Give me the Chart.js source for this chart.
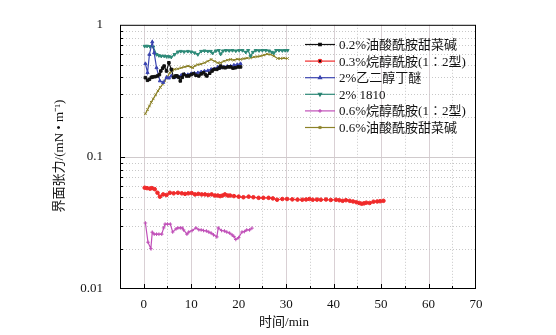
<!DOCTYPE html>
<html><head><meta charset="utf-8">
<script src="https://cdn.jsdelivr.net/npm/chart.js@4"></script>
<style>html,body{margin:0;padding:0;background:#fff}#w{width:556px;height:335px}</style>
</head><body><div id="w"><canvas id="c" width="556" height="335"></canvas></div>
<script>
const seriesNames = ["0.2%油酸酰胺甜菜碱","0.3%烷醇酰胺(1∶2型)","2%乙二醇丁醚","2% 1810","0.6%烷醇酰胺(1∶2型)","0.6%油酸酰胺甜菜碱"];
const xTickValues = [0,10,20,30,40,50,60,70];
const yTickValues = [0.01,0.1,1];
const yTickLabels = ["0.01","0.1","1"];
const xTitle = "时间/min";
const yTitle = "界面张力/(mN • m⁻¹)";

const tBlack = [0.35,0.8,1.2,1.6,1.9,2.4,2.9,3.3,3.6,4.0,4.3,4.8,5.3,5.8,6.3,6.7,7.0,7.4,7.7,8.1,8.4,9.0,9.5,10.0,10.5,11.0,11.6,12.1,12.6,13.0,13.3,13.9,14.4,14.8,15.4,15.9,16.2,16.7,17.2,17.8,18.3,18.8,19.3,19.9,20.4];
const vBlack = [0.398,0.38,0.387,0.40,0.403,0.405,0.41,0.42,0.447,0.47,0.487,0.447,0.516,0.46,0.40,0.41,0.41,0.40,0.376,0.40,0.422,0.41,0.41,0.42,0.427,0.415,0.41,0.425,0.434,0.42,0.41,0.43,0.447,0.46,0.46,0.47,0.487,0.475,0.473,0.48,0.48,0.47,0.473,0.48,0.48];

const tRed = [0.2,0.7,1.3,1.7,2.3,2.9,3.4,4.1,4.8,5.5,6.3,7.2,8.0,8.7,9.4,10.1,10.8,11.5,12.2,12.9,13.6,14.3,15.0,15.6,16.1,16.6,17.1,17.7,18.2,19.0,20.0,21.0,22.1,23.1,24.2,25.2,26.3,27.2,28.1,29.2,30.2,31.3,32.4,33.4,34.2,34.9,35.6,36.5,37.3,38.4,39.4,40.5,41.2,41.9,42.6,43.4,44.1,44.8,45.4,45.9,46.4,46.9,47.6,48.4,49.2,49.8,50.5];
const vRed = [0.0584,0.058,0.0575,0.058,0.057,0.0535,0.050,0.052,0.0515,0.0535,0.053,0.0535,0.053,0.0525,0.053,0.0532,0.052,0.0525,0.052,0.052,0.0515,0.052,0.051,0.051,0.0505,0.051,0.052,0.051,0.051,0.0505,0.050,0.0495,0.050,0.0495,0.049,0.049,0.049,0.0485,0.0474,0.048,0.048,0.0477,0.0475,0.0474,0.0476,0.048,0.0474,0.0475,0.0474,0.0476,0.0472,0.0474,0.047,0.0465,0.047,0.0465,0.046,0.0454,0.0448,0.0442,0.0445,0.045,0.0448,0.0458,0.046,0.0462,0.0465];

const tBlue = [0.35,0.8,1.2,1.8,2.2,2.7,3.4,4.1,4.8,5.3,5.8,6.5,7.2,7.9,8.6,9.3,10.0,10.7,11.4,12.1,12.8,13.5,14.2,14.9,15.6,16.2,16.9,17.6,18.3,19.0,19.7,20.4];
const vBlue = [0.508,0.434,0.596,0.742,0.614,0.473,0.376,0.366,0.40,0.395,0.41,0.40,0.405,0.415,0.422,0.42,0.427,0.43,0.434,0.44,0.447,0.45,0.46,0.465,0.479,0.473,0.48,0.485,0.487,0.495,0.50,0.508];

const tTeal = [0.2,0.7,1.3,2.0,2.7,3.2,3.7,4.3,4.8,5.3,5.8,6.5,7.2,7.8,8.5,9.3,10.0,10.7,11.4,12.1,12.8,13.5,14.1,14.5,15.2,15.8,16.2,16.7,17.3,18.0,18.7,19.4,20.1,20.8,21.5,22.0,22.5,23.0,23.6,24.3,25.0,25.7,26.4,27.0,27.4,27.9,28.5,29.2,29.8,30.3];
const vTeal = [0.688,0.69,0.685,0.68,0.596,0.585,0.579,0.58,0.575,0.575,0.569,0.596,0.624,0.63,0.625,0.63,0.624,0.614,0.596,0.63,0.635,0.63,0.63,0.61,0.635,0.64,0.60,0.635,0.64,0.638,0.64,0.635,0.64,0.64,0.62,0.64,0.58,0.62,0.64,0.638,0.64,0.64,0.635,0.62,0.61,0.64,0.64,0.638,0.64,0.64];

const tMag = [0.35,0.9,1.5,1.8,2.2,2.7,3.2,3.8,4.2,4.5,5.0,5.6,6.1,6.8,7.2,7.7,8.1,8.4,9.1,9.5,10.2,11.0,11.6,12.1,12.6,13.2,13.7,14.2,14.7,15.4,15.7,16.4,17.0,17.5,18.1,18.6,19.0,19.4,20.0,20.7,21.2,21.7,22.3,22.8];
const vMag = [0.0316,0.0226,0.0202,0.0269,0.026,0.026,0.026,0.026,0.029,0.031,0.031,0.031,0.027,0.0285,0.029,0.029,0.029,0.028,0.026,0.027,0.0277,0.029,0.0281,0.028,0.0277,0.0275,0.027,0.0265,0.0257,0.0248,0.029,0.0277,0.0275,0.027,0.0265,0.0257,0.025,0.0237,0.0245,0.027,0.0272,0.028,0.028,0.0289];

const tOlive = [0.35,0.8,1.2,1.6,2.0,2.5,3.0,3.5,4.0,4.4,5.0,5.5,6.0,6.5,7.2,7.9,8.6,9.3,10.0,10.3,10.8,11.4,12.1,12.8,13.5,14.2,14.9,15.6,16.2,16.9,17.6,18.3,19.0,19.7,20.4,21.1,21.8,22.5,23.2,23.9,24.6,25.3,26.0,26.8,27.4,28.2,28.8,29.5,30.3];
const vOlive = [0.212,0.228,0.243,0.259,0.275,0.295,0.316,0.336,0.355,0.376,0.405,0.434,0.45,0.46,0.465,0.473,0.48,0.487,0.48,0.473,0.49,0.50,0.505,0.516,0.53,0.547,0.53,0.516,0.516,0.53,0.54,0.547,0.54,0.55,0.547,0.555,0.56,0.563,0.57,0.575,0.58,0.59,0.60,0.596,0.58,0.556,0.556,0.56,0.556];

const colors = ["#111111","#f02a2a","#3a44b0","#2e8a78","#c050b8","#8c8228"];
const styles = ["rect","circle","triangle","triangle","cross","crossRot"];
const rotations = [0,0,0,180,0,0];

const pairs = [[tBlack,vBlack],[tRed,vRed],[tBlue,vBlue],[tTeal,vTeal],[tMag,vMag],[tOlive,vOlive]];
const datasets = pairs.map((p,i)=>({
  label: seriesNames[i],
  data: p[0].map((t,j)=>({x:t,y:p[1][j]})),
  borderColor: colors[i], backgroundColor: colors[i],
  borderWidth: 1.2, pointRadius: 1.8, pointStyle: styles[i], pointRotation: rotations[i],
  pointBorderWidth: 1, tension: 0
}));

const serif = '"Liberation Serif","Noto Sans CJK SC",serif';
const cjk = '"Liberation Serif","Noto Sans CJK SC",sans-serif';

const deco = {
  id:'deco',
  beforeDatasetsDraw(chart){
    const {ctx, chartArea:a, scales:{x,y}} = chart;
    ctx.save();
    // vertical grid
    for(let v=-5; v<=70; v+=5){
      const px = Math.round(x.getPixelForValue(v))+0.5;
      if(px<=a.left+1 || px>=a.right-1) continue;
      ctx.beginPath();
      if(v%10===0){ctx.setLineDash([]);ctx.strokeStyle='#d9d0d4';}
      else {ctx.setLineDash([1,2]);ctx.strokeStyle='#c8c8c8';}
      ctx.lineWidth=1; ctx.moveTo(px,a.top); ctx.lineTo(px,a.bottom); ctx.stroke();
    }
    // horizontal grid
    for(let d=-2; d<0; d++){
      for(let k=1;k<=9;k++){
        const val = k*Math.pow(10,d);
        const py = Math.round(y.getPixelForValue(val))+0.5;
        if(py>=a.bottom-1 || py<=a.top+1) continue;
        ctx.beginPath();
        if(k===1){ctx.setLineDash([]);ctx.strokeStyle='#d0cacc';}
        else {ctx.setLineDash([1,2]);ctx.strokeStyle='#c8c8c8';}
        ctx.moveTo(a.left,py); ctx.lineTo(a.right,py); ctx.stroke();
      }
    }
    ctx.restore();
  },
  afterDatasetsDraw(chart){
    const {ctx, chartArea:a, scales:{x,y}} = chart;
    ctx.save();
    ctx.setLineDash([]);
    ctx.strokeStyle='#000'; ctx.lineWidth=1;
    ctx.strokeRect(a.left+0.5,a.top+0.5,a.right-a.left-1,a.bottom-a.top-1);
    // bottom ticks inward
    for(let v=-5; v<=70; v+=5){
      const px = Math.round(x.getPixelForValue(v))+0.5;
      if(px<=a.left+1 || px>=a.right-1) continue;
      const L = v%10===0?5:3;
      ctx.beginPath(); ctx.moveTo(px,a.bottom); ctx.lineTo(px,a.bottom-L); ctx.stroke();
    }
    // left ticks inward
    for(let d=-2; d<0; d++){
      for(let k=1;k<=9;k++){
        const val = k*Math.pow(10,d);
        const py = Math.round(y.getPixelForValue(val))+0.5;
        if(py>=a.bottom-1 || py<=a.top+1) continue;
        const L = k===1?5:3;
        ctx.beginPath(); ctx.moveTo(a.left,py); ctx.lineTo(a.left+L,py); ctx.stroke();
      }
    }
    // legend
    const lx0=305, lx1=335, ly0=44.5, dy=16.6;
    chart.data.datasets.forEach((ds,i)=>{
      const yy = ly0 + i*dy;
      ctx.strokeStyle=ds.borderColor; ctx.lineWidth=1.2;
      ctx.beginPath(); ctx.moveTo(lx0,yy); ctx.lineTo(lx1,yy); ctx.stroke();
      Chart.helpers.drawPoint(ctx,{pointStyle:ds.pointStyle,rotation:ds.pointRotation,radius:1.8,borderWidth:1},(lx0+lx1)/2,yy);
      ctx.fillStyle='#111'; ctx.font='13px '+cjk; ctx.textBaseline='middle'; ctx.textAlign='left';
      ctx.fillText(ds.label, 339, yy+1);
    });
    // axis titles
    ctx.fillStyle='#111'; ctx.font='13px '+cjk; ctx.textAlign='center'; ctx.textBaseline='middle';
    ctx.fillText(xTitle, 284, 323);
    ctx.translate(60,156); ctx.rotate(-Math.PI/2);
    ctx.fillText(yTitle, 0, 0);
    ctx.restore();
  }
};

new Chart(document.getElementById('c'),{
  type:'line',
  data:{datasets},
  options:{
    responsive:false, animation:false, devicePixelRatio:1,
    layout:{padding:{top:22,right:80,left:0,bottom:0}},
    plugins:{legend:{display:false},tooltip:{enabled:false}},
    scales:{
      x:{type:'linear',min:-5,max:70,
        afterBuildTicks(s){s.ticks = xTickValues.map(v=>({value:v}));},
        afterFit(s){s.height=46;},
        grid:{display:false,drawTicks:false}, border:{display:false},
        ticks:{padding:8,color:'#111',font:{family:serif,size:13},maxRotation:0,autoSkip:false,callback:(v)=>String(v)}},
      y:{type:'logarithmic',min:0.01,max:1,
        afterBuildTicks(s){s.ticks = yTickValues.map(v=>({value:v}));},
        afterFit(s){s.width=120;},
        grid:{display:false,drawTicks:false}, border:{display:false},
        ticks:{padding:17,color:'#111',font:{family:serif,size:13},autoSkip:false,
          callback:(v)=>{const i=yTickValues.indexOf(v);return i>=0?yTickLabels[i]:'';}}}
    }
  },
  plugins:[deco]
});
</script></body></html>
